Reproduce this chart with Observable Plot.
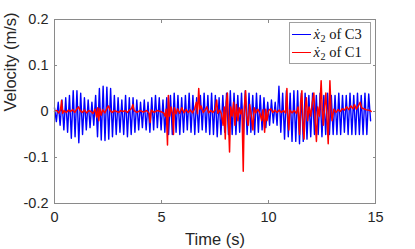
<!DOCTYPE html>
<html>
<head>
<meta charset="utf-8">
<script src="https://cdn.jsdelivr.net/npm/d3@7"></script>
<script src="https://cdn.jsdelivr.net/npm/@observablehq/plot@0.6"></script>
<style>
  html, body { margin: 0; padding: 0; background: #fff; }
  #wrap { position: relative; width: 415px; height: 249px; }
  #legend {
    position: absolute; left: 288.5px; top: 21.5px; width: 82px; height: 42px;
    border: 1px solid #a0a0a0; background: #fff; box-sizing: border-box;
    font-family: "Liberation Serif", "Times New Roman", serif; font-size: 14.5px; color: #111;
  }
  .row { position: absolute; left: 0; height: 18px; display: flex; align-items: center; white-space: nowrap; }
  .sw { display: inline-block; width: 19px; height: 0; margin-left: 2px; margin-right: 3px; }
  .row i { font-style: italic; }
  .row sub { font-size: 70%; vertical-align: -3px; line-height: 0; margin-left: 0.5px; }
</style>
</head>
<body>
<div id="wrap"></div>
<script>
// ----- data -----
const xTicks = [0, 5, 10, 15];
const xTickLabels = ["0", "5", "10", "15"];
const yTicks = [-0.2, -0.1, 0, 0.1, 0.2];
const yTickLabels = ["-0.2", "-0.1", "0", "0.1", "0.2"];

const seriesSymbol = "ẋ";
const seriesSubscript = "2";
const seriesCases = ["C3", "C1"];
const seriesColors = ["#0000ff", "#ff0000"];

// blue: x2-dot of C3, sampled at successive extrema (half-periods)
const blueStart = 0;
const blueEnd = 14.77;
const blueV = [
  0.008, -0.022, 0.02, -0.03, 0.025, -0.04, 0.03, -0.045, 0.035, -0.058,
  0.045, -0.055, 0.045, -0.068, 0.04, -0.05, 0.03, -0.04, 0.025, -0.035,
  0.02, -0.03, 0.035, -0.055, 0.05, -0.062, 0.055, -0.063, 0.053, -0.06,
  0.05, -0.055, 0.035, -0.05, 0.03, -0.045, 0.025, -0.05, 0.035, -0.055,
  0.03, -0.05, 0.03, -0.045, 0.025, -0.04, 0.02, -0.035, 0.025, -0.04,
  0.02, -0.045, 0.03, -0.04, 0.035, -0.035, 0.03, -0.04, 0.025, -0.045,
  0.03, -0.05, 0.035, -0.05, 0.04, -0.045, 0.035, -0.05, 0.03, -0.045,
  0.035, -0.04, 0.04, -0.045, 0.035, -0.05, 0.03, -0.045, 0.035, -0.04,
  0.04, -0.045, 0.035, -0.05, 0.04, -0.05, 0.035, -0.055, 0.03, -0.05,
  0.035, -0.045, 0.04, -0.05, 0.045, -0.05, 0.04, -0.05, 0.035, -0.045,
  0.04, -0.05, 0.045, -0.05, 0.04, -0.045, 0.035, -0.05, 0.04, -0.045,
  0.035, -0.04, 0.03, -0.035, 0.02, -0.03, 0.025, -0.025, 0.02, -0.03,
  0.055, -0.045, 0.04, -0.06, 0.045, -0.055, 0.04, -0.065, 0.045, -0.065,
  0.045, -0.07, 0.04, -0.065, 0.04, -0.06, 0.035, -0.055, 0.04, -0.05,
  0.035, -0.05, 0.04, -0.055, 0.035, -0.05, 0.04, -0.05, 0.035, -0.05,
  0.035, -0.05, 0.04, -0.05, 0.035, -0.045, 0.035, -0.05, 0.04, -0.05,
  0.035, -0.05, 0.04, -0.05, 0.035, -0.05, 0.04, -0.05, 0.038, -0.02
];

// red: x2-dot of C1
const redT = [
  0, 0.1, 0.2, 0.28, 0.33, 0.38, 0.45, 0.55, 0.65, 0.75, 0.85, 0.95, 1.05, 1.12, 1.2, 1.3, 1.4, 1.5, 1.6, 1.7,
  1.8, 1.9, 1.97, 2.02, 2.07, 2.12, 2.18, 2.25, 2.35, 2.45, 2.52, 2.6, 2.7, 2.8, 2.9, 3.0, 3.1, 3.2, 3.3, 3.4,
  3.5, 3.6, 3.66, 3.72, 3.85, 4.0, 4.15, 4.3, 4.42, 4.47, 4.52, 4.65, 4.8, 4.95, 5.1, 5.17, 5.22, 5.28, 5.32, 5.38,
  5.45, 5.52, 5.56, 5.6, 5.68, 5.75, 5.85, 5.95, 6.05, 6.15, 6.25, 6.35, 6.45, 6.55, 6.63, 6.68, 6.74, 6.79, 6.85, 6.95,
  7.05, 7.12, 7.2, 7.3, 7.4, 7.5, 7.58, 7.63, 7.72, 7.8, 7.88, 7.93, 7.98, 8.03, 8.08, 8.13, 8.18, 8.23, 8.3, 8.37,
  8.43, 8.5, 8.57, 8.63, 8.7, 8.76, 8.82, 8.87, 8.93, 8.98, 9.05, 9.12, 9.2, 9.27, 9.33, 9.4, 9.5, 9.6, 9.68, 9.74,
  9.82, 9.87, 9.93, 10.0, 10.1, 10.2, 10.3, 10.4, 10.5, 10.6, 10.7, 10.8, 10.86, 10.9, 10.95, 11.0, 11.1, 11.2, 11.3, 11.38,
  11.45, 11.5, 11.56, 11.61, 11.66, 11.72, 11.77, 11.83, 11.9, 11.97, 12.05, 12.12, 12.18, 12.24, 12.3, 12.38, 12.46, 12.51, 12.56, 12.62,
  12.68, 12.73, 12.79, 12.84, 12.87, 12.92, 12.97, 13.05, 13.15, 13.25, 13.35, 13.45, 13.55, 13.65, 13.75, 13.85, 13.95, 14.02, 14.1, 14.2,
  14.28, 14.35, 14.45, 14.55, 14.65, 14.75, 14.8
];
const redV = [
  0, 0.002, -0.003, 0.003, 0.024, -0.004, 0.002, -0.002, 0.003, 0, 0.004, -0.002, 0.006, 0.01, 0.002, -0.002, 0.003, -0.003, 0.002, 0,
  -0.004, 0.005, -0.012, 0.008, -0.02, 0.006, -0.008, 0.004, -0.003, 0.007, 0.012, 0.002, -0.002, 0.002, 0, -0.002, 0.002, 0, 0.002, -0.002,
  0.003, 0.006, 0.015, 0.002, -0.002, 0.002, -0.001, 0.002, -0.004, -0.024, 0.003, -0.002, 0.002, 0, -0.003, -0.01, 0.005, -0.073, 0.035, -0.01,
  0.01, -0.006, -0.05, 0.008, -0.005, 0.006, -0.004, 0.008, -0.003, 0.004, -0.002, 0.003, -0.003, 0.006, 0.02, -0.005, 0.05, 0.005, 0.012, -0.002,
  0.004, 0.01, -0.003, 0.002, -0.002, 0.003, 0.025, -0.004, 0.003, -0.005, -0.03, 0.01, -0.06, 0.02, 0.04, -0.02, -0.088, 0.01, -0.01, 0.02,
  -0.03, 0.015, -0.02, 0.008, -0.005, 0.005, -0.13, 0.01, 0.045, -0.01, -0.03, 0.015, -0.01, -0.04, 0.008, -0.003, 0.005, -0.004, -0.02, 0.004,
  -0.045, 0.005, -0.02, 0.002, 0.006, -0.002, 0.003, -0.002, 0.003, -0.002, 0.002, -0.003, 0.05, -0.01, -0.04, 0.003, -0.003, 0.002, -0.004, 0.01,
  -0.05, 0.02, 0.045, -0.03, -0.06, 0.01, 0.03, -0.02, 0.01, -0.01, 0.02, 0.04, -0.02, -0.065, 0.01, -0.01, 0.067, 0.005, -0.03, 0.01,
  0.04, -0.01, -0.07, 0.02, 0.067, 0.005, -0.02, 0.005, -0.002, 0.004, 0, 0.006, 0.003, 0.01, 0.004, 0.012, 0.006, 0.015, 0.005, 0.012,
  0.02, 0.008, 0.006, 0.004, 0.003, 0.002, 0
];

// ----- build tables -----
const blueStep = (blueEnd - blueStart) / (blueV.length - 1);
const blue = blueV.map((v, i) => ({t: blueStart + i * blueStep, v}));
const red = redT.map((t, i) => ({t, v: redV[i]}));

const axisGray = "#8a8a8a";
const textColor = "#262626";

const chart = Plot.plot({
  width: 415,
  height: 249,
  marginLeft: 54,
  marginRight: 40,
  marginTop: 19,
  marginBottom: 46,
  x: {domain: [0, 15]},
  y: {domain: [-0.2, 0.2]},
  style: {fontFamily: "'Liberation Sans', Arial, Helvetica, sans-serif", fontSize: "14px", color: textColor, background: "#fff"},
  marks: [
    Plot.line(blue, {x: "t", y: "v", stroke: seriesColors[0], strokeWidth: 1.4}),
    Plot.line(red, {x: "t", y: "v", stroke: seriesColors[1], strokeWidth: 1.5}),
    Plot.frame({stroke: axisGray}),
    // inward tick marks on all four sides
    Plot.axisX(xTicks, {anchor: "bottom", tickSize: 3, dy: -3, tickFormat: () => "", label: null, stroke: axisGray}),
    Plot.axisX(xTicks, {anchor: "top", tickSize: 3, dy: 3, tickFormat: () => "", label: null, stroke: axisGray}),
    Plot.axisY(yTicks, {anchor: "left", tickSize: 3, dx: 3, tickFormat: () => "", label: null, stroke: axisGray}),
    Plot.axisY(yTicks, {anchor: "right", tickSize: 3, dx: -3, tickFormat: () => "", label: null, stroke: axisGray}),
    // tick labels
    Plot.axisX(xTicks, {anchor: "bottom", tickSize: 0, tickPadding: 8, tickFormat: (d, i) => xTickLabels[i], label: null, fontSize: 14.5, fill: textColor}),
    Plot.axisY(yTicks, {anchor: "left", tickSize: 0, tickPadding: 6, tickFormat: (d, i) => yTickLabels[i], label: null, fontSize: 14.5, fill: textColor}),
    // axis titles
    Plot.text(["Time (s)"], {frameAnchor: "bottom", dy: 36, lineAnchor: "middle", fontSize: 16.5, fill: textColor}),
    Plot.text(["Velocity (m/s)"], {frameAnchor: "left", dx: -43.5, rotate: -90, lineAnchor: "middle", fontSize: 16.5, fill: textColor})
  ]
});

const wrap = document.getElementById("wrap");
wrap.appendChild(chart);

const legend = document.createElement("div");
legend.id = "legend";
seriesCases.forEach((c, i) => {
  const row = document.createElement("div");
  row.className = "row";
  row.style.top = (i === 0 ? 2.5 : 21) + "px";
  const sw = document.createElement("span");
  sw.className = "sw";
  sw.style.borderTop = "1.2px solid " + seriesColors[i];
  row.appendChild(sw);
  const label = document.createElement("span");
  label.innerHTML = "<i>" + seriesSymbol + "</i><sub>" + seriesSubscript + "</sub>&nbsp;of&nbsp;" + c;
  row.appendChild(label);
  legend.appendChild(row);
});
wrap.appendChild(legend);
</script>
</body>
</html>
